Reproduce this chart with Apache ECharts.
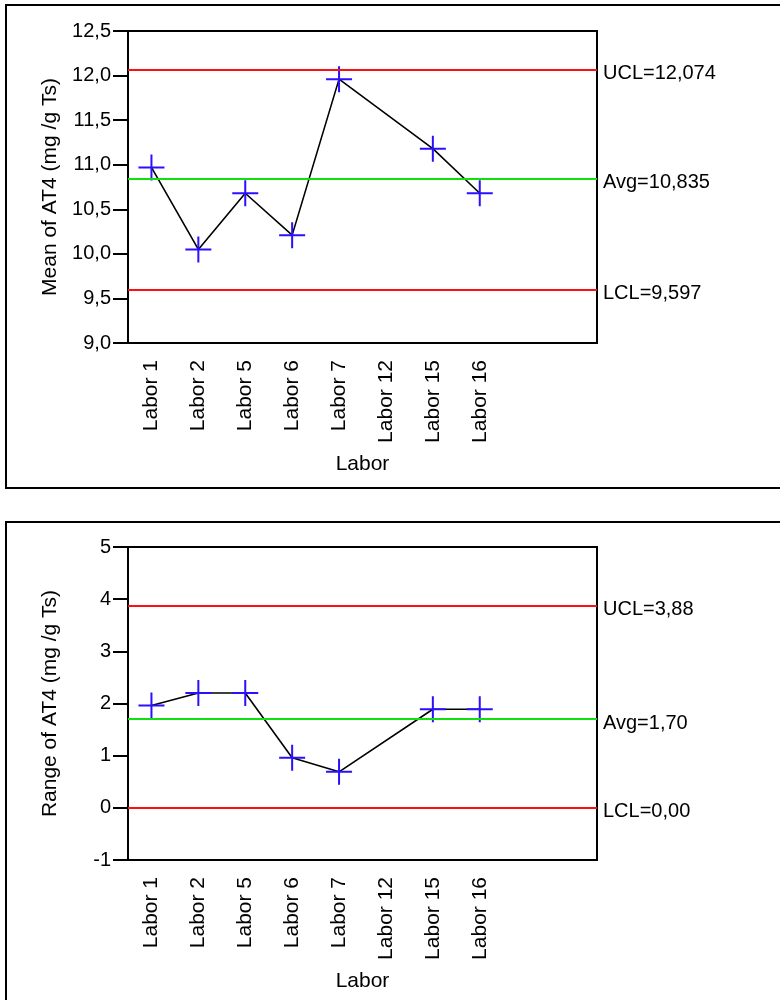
<!DOCTYPE html>
<html>
<head>
<meta charset="utf-8">
<script src="https://cdn.jsdelivr.net/npm/echarts@6/dist/echarts.min.js"></script>
<style>
  html, body { margin: 0; padding: 0; background: #fff; }
  #chart { width: 780px; height: 1000px; }
</style>
</head>
<body>
<div id="chart"></div>
<script>
// Laboratories on the shared category axis (two trailing empty slots)
const categories = ['Labor 1', 'Labor 2', 'Labor 5', 'Labor 6', 'Labor 7', 'Labor 12', 'Labor 15', 'Labor 16', ' ', '  '];

// Mean of AT4 per laboratory (mg /g Ts); Labor 12 has no value
const meanValues = [10.97, 10.05, 10.68, 10.21, 11.96, null, 11.18, 10.68, null, null];
// Range of AT4 per laboratory (mg /g Ts)
const rangeValues = [1.96, 2.20, 2.20, 0.96, 0.69, null, 1.89, 1.89, null, null];

// Control limits: [UCL, Avg, LCL]
const meanLimits = [12.074, 10.835, 9.597];
const rangeLimits = [3.88, 1.70, 0.00];
const meanLimitText = ['UCL=12,074', 'Avg=10,835', 'LCL=9,597'];
const rangeLimitText = ['UCL=3,88', 'Avg=1,70', 'LCL=0,00'];

// Y axis tick settings
const meanAxis = { min: 9, max: 12.5, interval: 0.5, decimals: 1 };
const rangeAxis = { min: -1, max: 5, interval: 1, decimals: 0 };

const FONT = "'Liberation Sans', Arial, Helvetica, sans-serif";
const BLACK = '#000';
const RED = '#ff1010';
const GREEN = '#10e010';
const BLUE = '#2a10ff';
const CROSS = 'path://M0,10L20,10M10,0L10,20';

function comma(v, d) { return v.toFixed(d).replace('.', ','); }

function xAxisDef(gridIndex) {
  return {
    type: 'category', gridIndex, data: categories, boundaryGap: true,
    name: 'Labor', nameLocation: 'middle', nameGap: 111,
    nameTextStyle: { fontFamily: FONT, fontSize: 21, color: BLACK },
    axisLine: { lineStyle: { color: BLACK, width: 2 } },
    axisTick: { alignWithLabel: true, interval: 0, length: 14, lineStyle: { color: BLACK, width: 2 } },
    axisLabel: { interval: 0, rotate: 90, margin: 17, fontFamily: FONT, fontSize: 21, color: BLACK },
    splitLine: { show: false }
  };
}

function yAxisDef(gridIndex, ax, title) {
  return {
    type: 'value', gridIndex, min: ax.min, max: ax.max, interval: ax.interval,
    name: title, nameLocation: 'middle', nameGap: 67,
    nameTextStyle: { fontFamily: FONT, fontSize: 21, color: BLACK },
    axisLine: { show: true, lineStyle: { color: BLACK, width: 2 } },
    axisTick: { show: true, length: 15, lineStyle: { color: BLACK, width: 2 } },
    axisLabel: { margin: 17, fontFamily: FONT, fontSize: 20, color: BLACK,
      formatter: v => comma(v, ax.decimals) },
    splitLine: { show: false }
  };
}

function limitLines(limits, texts) {
  const colors = [RED, GREEN, RED];
  return {
    silent: true, symbol: 'none', animation: false,
    data: limits.map((v, i) => ({
      yAxis: v,
      lineStyle: { color: colors[i], width: 2, type: 'solid' },
      label: { show: true, position: 'end', distance: 6, offset: [0, 4],
        formatter: texts[i], fontFamily: FONT, fontSize: 20, color: BLACK }
    }))
  };
}

function seriesDef(idx, values, limits, texts) {
  return {
    type: 'line', xAxisIndex: idx, yAxisIndex: idx, data: values,
    connectNulls: true, symbol: CROSS, symbolSize: 26, showSymbol: true,
    lineStyle: { color: BLACK, width: 1.6 },
    itemStyle: { color: BLUE, borderColor: BLUE, borderWidth: 2 },
    markLine: limitLines(limits, texts),
    z: 3
  };
}

const chart = echarts.init(document.getElementById('chart'), null, { renderer: 'canvas' });
chart.setOption({
  animation: false,
  backgroundColor: '#fff',
  grid: [
    { left: 128, top: 31, width: 469, height: 312, show: true, borderColor: BLACK, borderWidth: 2, backgroundColor: 'transparent' },
    { left: 128, top: 547, width: 469, height: 313, show: true, borderColor: BLACK, borderWidth: 2, backgroundColor: 'transparent' }
  ],
  xAxis: [xAxisDef(0), xAxisDef(1)],
  yAxis: [
    yAxisDef(0, meanAxis, 'Mean of AT4 (mg /g Ts)'),
    yAxisDef(1, rangeAxis, 'Range of AT4 (mg /g Ts)')
  ],
  graphic: [
    { type: 'rect', shape: { x: 6, y: 5, width: 820, height: 483 }, style: { fill: 'none', stroke: BLACK, lineWidth: 2 }, silent: true },
    { type: 'rect', shape: { x: 6, y: 522, width: 820, height: 520 }, style: { fill: 'none', stroke: BLACK, lineWidth: 2 }, silent: true }
  ],
  series: [
    seriesDef(0, meanValues, meanLimits, meanLimitText),
    seriesDef(1, rangeValues, rangeLimits, rangeLimitText)
  ]
});
</script>
</body>
</html>
